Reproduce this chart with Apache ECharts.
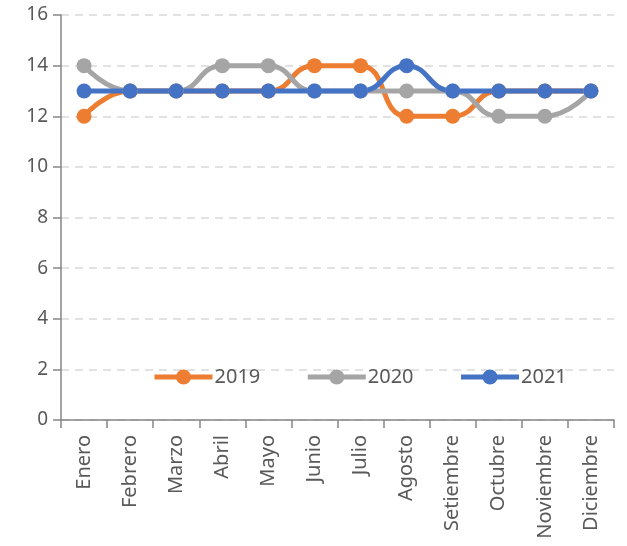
<!DOCTYPE html>
<html><head><meta charset="utf-8">
<script src="https://cdn.jsdelivr.net/npm/echarts@6/dist/echarts.min.js"></script>
<style>html,body{margin:0;padding:0;background:#fff}#c{width:627px;height:546px}</style>
</head><body><div id="c"></div>
<script>
const categories = ['Enero','Febrero','Marzo','Abril','Mayo','Junio','Julio','Agosto','Setiembre','Octubre','Noviembre','Diciembre'];
const s2019 = [12,13,13,13,13,14,14,12,12,13,13,13];
const s2020 = [14,13,13,14,14,13,13,13,13,12,12,13];
const s2021 = [13,13,13,13,13,13,13,14,13,13,13,13];
const yTicks = {min:0, max:16, interval:2};

const font = '"Noto Sans", sans-serif';
const chart = echarts.init(document.getElementById('c'), null, {renderer:'canvas'});
function mk(name, data, color){
  return {name, type:'line', data, smooth:0.5, symbol:'circle', symbolSize:15,
    lineStyle:{color, width:5}, itemStyle:{color}, z:2};
}
chart.setOption({
  animation:false,
  grid:{left:61, right:13, top:15, bottom:126},
  legend:{top:362, left:147, itemWidth:58, itemHeight:19, itemGap:45,
    lineStyle:{width:5},
    textStyle:{fontFamily:font, fontSize:20, color:'#595959', padding:[0,0,0,-3]},
    data:['2019','2020','2021']},
  xAxis:{type:'category', data:categories, boundaryGap:true,
    axisLine:{lineStyle:{color:'#868686', width:1.5}},
    axisTick:{show:true, length:8, lineStyle:{color:'#868686', width:1.5}},
    axisLabel:{rotate:90, fontFamily:font, fontSize:20, color:'#595959', margin:15}},
  yAxis:{type:'value', min:yTicks.min, max:yTicks.max, interval:yTicks.interval,
    axisLine:{show:true, lineStyle:{color:'#868686', width:1.5}},
    axisTick:{show:true, length:8, lineStyle:{color:'#868686', width:1.5}},
    splitLine:{lineStyle:{color:'#d9d9d9', type:[8,6], width:1.5}},
    axisLabel:{fontFamily:font, fontSize:19, color:'#595959', margin:13}},
  series:[mk('2019', s2019, '#ED7D31'), mk('2020', s2020, '#A5A5A5'), mk('2021', s2021, '#4472C4')]
});
</script></body></html>
